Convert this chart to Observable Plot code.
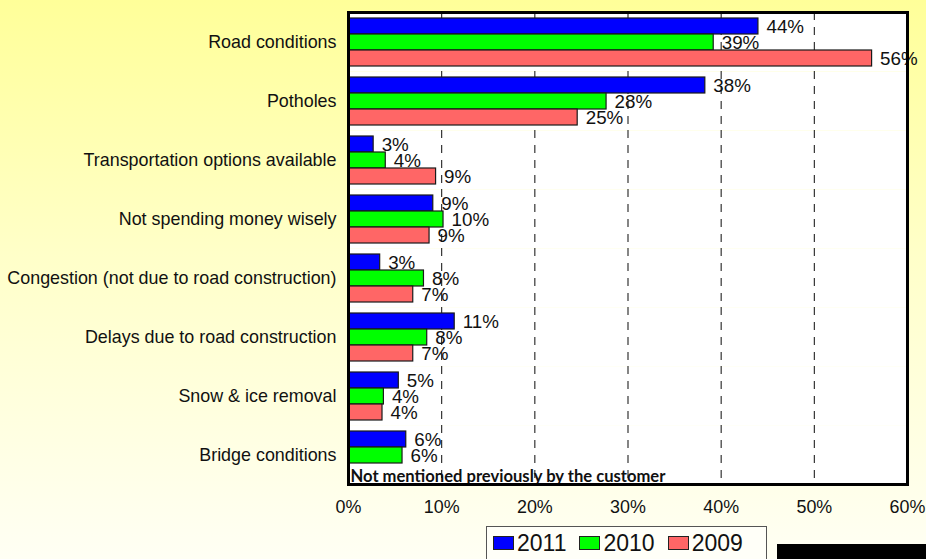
<!DOCTYPE html>
<html>
<head>
<meta charset="utf-8">
<script src="https://cdn.jsdelivr.net/npm/d3@7"></script>
<script src="https://cdn.jsdelivr.net/npm/@observablehq/plot@0.6"></script>
<style>
  html, body { margin: 0; padding: 0; }
  body {
    width: 926px; height: 559px; overflow: hidden; position: relative;
    background: linear-gradient(to bottom, #ffff99 0%, #ffffc8 45%, #fffff4 100%);
    font-family: "Liberation Sans", Arial, sans-serif;
  }
  #chart { position: absolute; left: 0; top: 0; }
  #legend {
    position: absolute; left: 486px; top: 526px; width: 281px; height: 40px;
    border: 1.5px solid #555; background: #fffff8; box-sizing: border-box;
    display: flex; align-items: flex-start; padding: 3px 0 0 6px; gap: 0;
    font-size: 23px; color: #111; line-height: 26px;
  }
  .item { display: flex; align-items: center; margin-right: 13px; }
  .sw { width: 21px; height: 14px; border: 1px solid #222; margin-right: 3px; box-sizing: border-box; }
  #blackbox { position: absolute; left: 777px; top: 544px; width: 149px; height: 15px; background: #000; }
</style>
</head>
<body>
<div id="chart"></div>
<div id="legend"></div>
<div id="blackbox"></div>
<script>
const categories = [
  "Road conditions",
  "Potholes",
  "Transportation options available",
  "Not spending money wisely",
  "Congestion (not due to road construction)",
  "Delays due to road construction",
  "Snow & ice removal",
  "Bridge conditions"
];
const years = ["2011", "2010", "2009"];
const colors = ["#0000ff", "#00ff00", "#ff6666"];
const values2011 = [44.0, 38.3, 2.7, 9.1, 3.4, 11.4, 5.4, 6.2];
const values2010 = [39.2, 27.7, 4.0, 10.2, 8.1, 8.45, 3.8, 5.8];
const values2009 = [56.2, 24.6, 9.4, 8.7, 6.95, 6.95, 3.65, null];
const xTicks = [0, 10, 20, 30, 40, 50, 60];
const gridTicks = [10, 20, 30, 40, 50];
const note = "Not mentioned previously by the customer";
const noteCategory = "Bridge conditions";

const series = [values2011, values2010, values2009];
const data = [];
categories.forEach((c, i) => {
  years.forEach((y, j) => {
    const v = series[j][i];
    if (v != null) data.push({category: c, year: y, value: v});
  });
});

const plot = Plot.plot({
  width: 926,
  height: 522,
  marginLeft: 348,
  marginRight: 19,
  marginTop: 9,
  marginBottom: 36,
  style: {background: "transparent", fontFamily: "'Liberation Sans', Arial, sans-serif", fontSize: "17.9px", color: "#111"},
  x: {domain: [0, 60], ticks: xTicks, tickFormat: d => d + "%", tickSize: 0, tickPadding: 16, label: null},
  y: {domain: years, paddingInner: 0, paddingOuter: 0.25, axis: null},
  fy: {domain: categories, padding: 0, label: null, tickSize: 0, tickPadding: 12},
  color: {domain: years, range: colors},
  marks: [
    Plot.frame({fill: "white", stroke: null}),
    Plot.ruleX(gridTicks, {stroke: "#222", strokeWidth: 1.1, strokeDasharray: "8,7"}),
    Plot.barX(data, {x: "value", y: "year", fy: "category", fill: "year", stroke: "#1a1a1a", strokeWidth: 1.2}),
    Plot.text(data, {x: "value", y: "year", fy: "category", text: d => Math.round(d.value) + "%", textAnchor: "start", dx: 8, fill: "#111", fontSize: 18.8}),
    Plot.text([{category: noteCategory, label: note}], {fy: "category", text: "label", frameAnchor: "bottom-left", lineAnchor: "bottom", dx: 2, dy: -3, fontWeight: "bold", fontFamily: "Lato, 'Open Sans', sans-serif", fontSize: 16.6, fill: "#111"}),
    Plot.frame({stroke: "black", strokeWidth: 3, facet: "super"})
  ]
});
document.getElementById("chart").appendChild(plot);

const legend = document.getElementById("legend");
years.forEach((y, i) => {
  const item = document.createElement("div");
  item.className = "item";
  const sw = document.createElement("div");
  sw.className = "sw";
  sw.style.background = colors[i];
  const t = document.createElement("span");
  t.textContent = y;
  item.appendChild(sw);
  item.appendChild(t);
  legend.appendChild(item);
});
</script>
</body>
</html>
